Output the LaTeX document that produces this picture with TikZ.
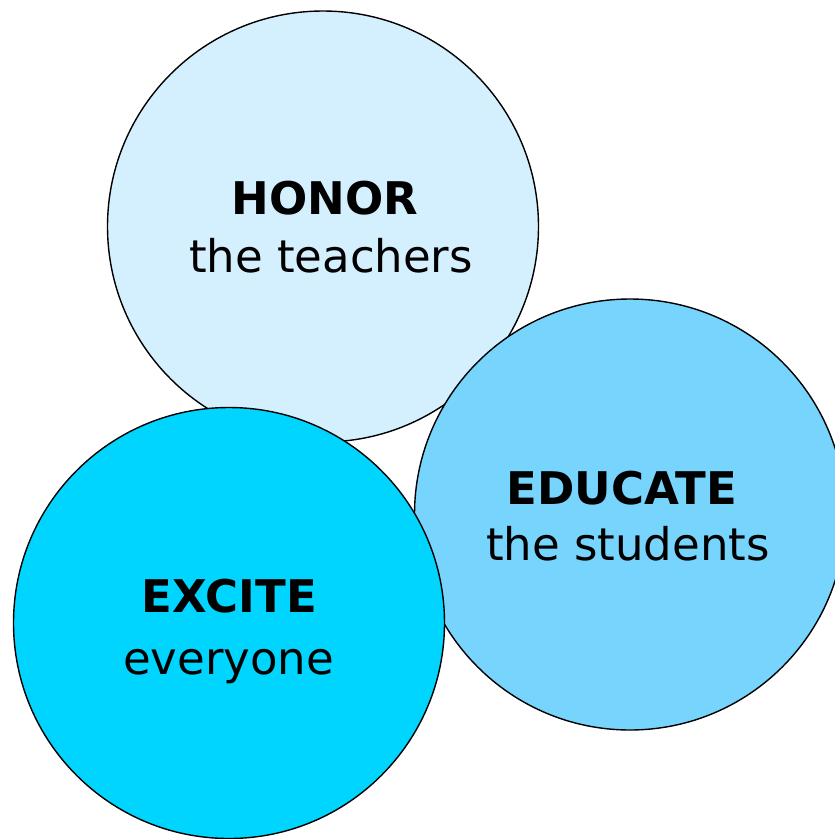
\documentclass[tikz,border=0pt]{standalone}
\usepackage{fontspec}
\setmainfont{DejaVu Sans}
\definecolor{honorc}{HTML}{D4EFFD}
\definecolor{educc}{HTML}{77D4FD}
\definecolor{excitec}{HTML}{00D5FF}
\begin{document}
\begin{tikzpicture}[x=1pt,y=-1pt,
  bubble/.style={circle,draw=black,line width=1.4pt,inner sep=0pt,minimum size=431pt},
  ttl/.style={font=\fontsize{45}{45}\selectfont\bfseries,anchor=base,inner sep=0pt},
  sub/.style={font=\fontsize{45}{45}\selectfont,anchor=base,inner sep=0pt}]
\useasboundingbox (0,0) rectangle (835,839);
\node[bubble,fill=honorc] (honor) at (323,226.5) {};
\node[bubble,fill=educc] (educ) at (630,514.5) {};
\node[bubble,fill=excitec] (excite) at (229,623) {};
\node[ttl] (t1) at (325,214) {HONOR};
\node[sub] (s1) at (331,272) {the teachers};
\node[ttl] (t2) at (622,504) {EDUCATE};
\node[sub] (s2) at (628,560) {the students};
\node[ttl] (t3) at (229.5,612) {EXCITE};
\node[sub] (s3) at (228.5,674) {everyone};
\end{tikzpicture}
\end{document}
